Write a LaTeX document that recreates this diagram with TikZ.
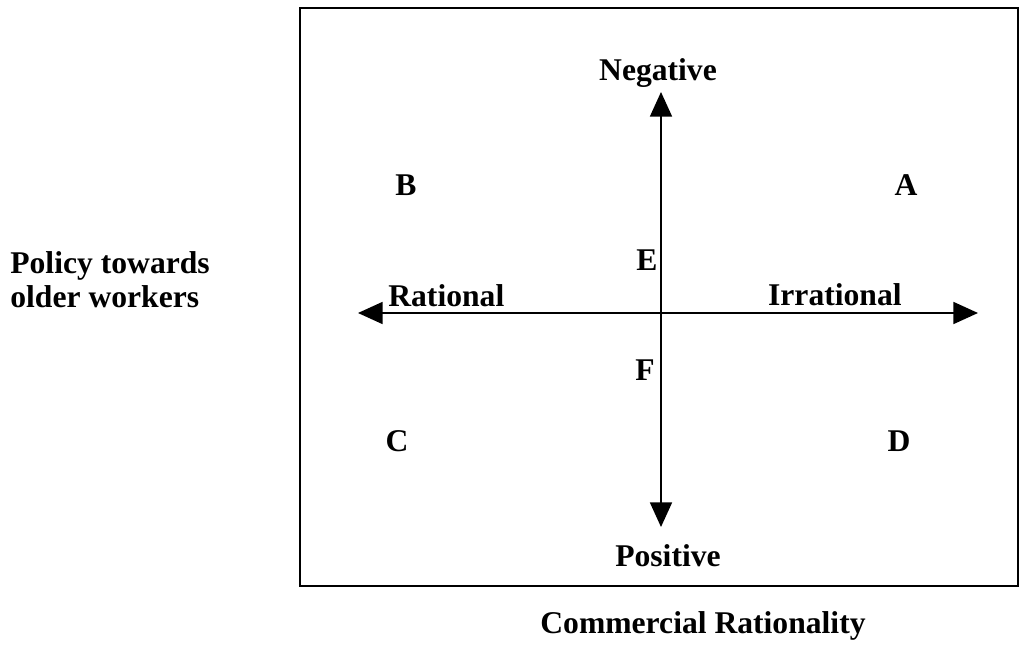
\documentclass[tikz,border=0pt]{standalone}
\usepackage{fontspec}
\setmainfont{Liberation Serif}
\usepackage{tikz}
\usetikzlibrary{arrows.meta,positioning}

\begin{document}
\begin{tikzpicture}[
    x=0.02cm, y=-0.02cm,
    lbl/.style={font=\fontsize{18}{19.5}\selectfont\bfseries, inner sep=0pt, anchor=base},
    axis/.style={{Triangle[length=14pt,width=12.5pt]}-{Triangle[length=14pt,width=12.5pt]}, line width=1pt}
]
\useasboundingbox (0,0) rectangle (1032,649);
\node[draw, line width=1pt, minimum width=718*0.02cm, minimum height=578*0.02cm, inner sep=0pt] (frame) at (659,297) {};

% axis end points
\coordinate (top) at (661,92);
\coordinate (bot) at (661,527);
\coordinate (lft) at (358,313);
\coordinate (rgt) at (978,313);
\draw[axis] (top) -- (bot);
\draw[axis] (lft) -- (rgt);

\node[lbl] (neg) at (658,80) {Negative};
\node[lbl] (pos) at (668,566) {Positive};
\node[lbl, anchor=base west] (rat) at (388,306) {Rational};
\node[lbl, anchor=base east] (irr) at (902,305) {Irrational};

\node[lbl] (qa) at (906,195) {A};
\node[lbl] (qb) at (406,195) {B};
\node[lbl] (qc) at (397,451) {C};
\node[lbl] (qd) at (899,451) {D};
\node[lbl] (qe) at (647,270) {E};
\node[lbl] (qf) at (645,380) {F};

\node[lbl, align=left, anchor=north west] (policy) at (10,251) {Policy towards\\older workers};
\node[lbl] (comm) at (703,633) {Commercial Rationality};
\end{tikzpicture}
\end{document}
